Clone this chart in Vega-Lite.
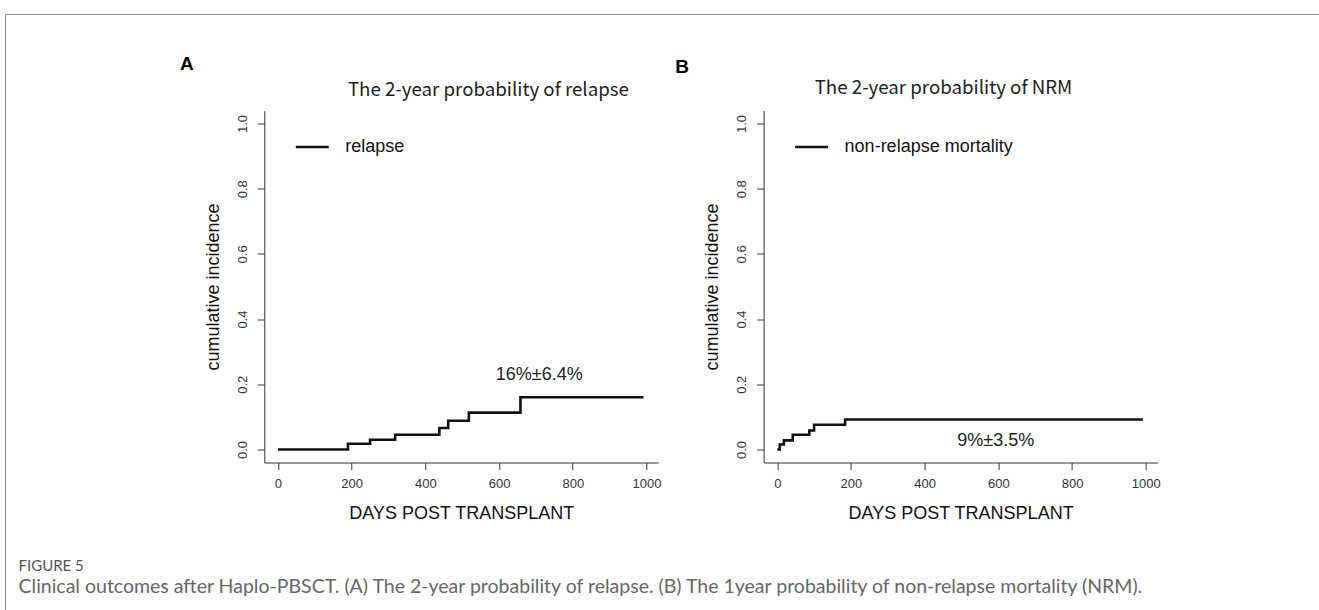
{
  "$schema": "https://vega.github.io/schema/vega-lite/v6.json",
  "padding": {"left": 4, "top": 13, "right": 0, "bottom": 0},
  "background": "white",
  "datasets": {
    "relapse": [
      {"day": 0, "ci": 0, "series": "relapse"},
      {"day": 190, "ci": 0.0175, "series": "relapse"},
      {"day": 250, "ci": 0.030, "series": "relapse"},
      {"day": 318, "ci": 0.045, "series": "relapse"},
      {"day": 438, "ci": 0.066, "series": "relapse"},
      {"day": 462, "ci": 0.088, "series": "relapse"},
      {"day": 518, "ci": 0.113, "series": "relapse"},
      {"day": 658, "ci": 0.160, "series": "relapse"},
      {"day": 992, "ci": 0.160, "series": "relapse"}
    ],
    "nrm": [
      {"day": 0, "ci": 0, "series": "non-relapse mortality"},
      {"day": 7, "ci": 0.015, "series": "non-relapse mortality"},
      {"day": 18, "ci": 0.028, "series": "non-relapse mortality"},
      {"day": 42, "ci": 0.045, "series": "non-relapse mortality"},
      {"day": 87, "ci": 0.058, "series": "non-relapse mortality"},
      {"day": 100, "ci": 0.076, "series": "non-relapse mortality"},
      {"day": 184, "ci": 0.092, "series": "non-relapse mortality"},
      {"day": 992, "ci": 0.092, "series": "non-relapse mortality"}
    ],
    "textA": [
      {"kind": "note", "label": "16%±6.4%", "day": 709, "ci": 0.23},
      {"kind": "head", "label": "The 2-year probability of relapse", "day": 571, "ci": 1.104},
      {"kind": "letter", "label": "A", "day": -247, "ci": 1.184}
    ],
    "textB": [
      {"kind": "note", "label": "9%±3.5%", "day": 593, "ci": 0.0245},
      {"kind": "head", "label": "The 2-year probability of NRM", "day": 451, "ci": 1.109},
      {"kind": "letter", "label": "B", "day": -258, "ci": 1.173}
    ]
  },
  "config": {
    "view": {"stroke": null},
    "font": "Liberation Sans",
    "axis": {
      "grid": false,
      "domainColor": "#333",
      "tickColor": "#333",
      "tickSize": 7,
      "labelFont": "Liberation Sans",
      "labelFontSize": 13,
      "labelColor": "#333",
      "labelFlush": false,
      "labelOverlap": false,
      "titleFont": "Liberation Sans",
      "titleFontSize": 18,
      "titleFontWeight": "normal",
      "titleColor": "#111"
    }
  },
  "hconcat": [
    {
      "width": 0.01,
      "height": 620,
      "data": {"values": []},
      "mark": "point",
      "view": {"stroke": "#8f8f8f", "strokeWidth": 1}
    },
    {
      "vconcat": [
        {
          "width": 1330,
          "height": 0.01,
          "data": {"values": []},
          "mark": "point",
          "view": {"stroke": "#8f8f8f", "strokeWidth": 1}
        },
        {
          "hconcat": [
            {
              "width": 152.2,
              "height": 352,
              "data": {"values": []},
              "mark": "point"
            },
            {
              "width": 394,
              "height": 352,
              "encoding": {
                "x": {
                  "field": "day", "type": "quantitative",
                  "scale": {"domain": [-37, 1032], "nice": false, "zero": false},
                  "axis": {"values": [0, 200, 400, 600, 800, 1000], "format": "d", "title": "DAYS POST TRANSPLANT", "labelPadding": 8, "titlePadding": 14}
                },
                "y": {
                  "field": "ci", "type": "quantitative",
                  "scale": {"domain": [-0.04, 1.04], "nice": false, "zero": false},
                  "axis": {"values": [0, 0.2, 0.4, 0.6, 0.8, 1.0], "format": ".1f", "labelAngle": 270, "labelAlign": "center", "labelBaseline": "bottom", "labelPadding": 8, "title": "cumulative incidence", "titlePadding": 14}
                }
              },
              "layer": [
                {
                  "data": {"name": "relapse"},
                  "mark": {"type": "line", "interpolate": "step-after", "strokeWidth": 2.6},
                  "encoding": {
                    "color": {
                      "field": "series", "type": "nominal",
                      "scale": {"range": ["#111111"]},
                      "legend": {"orient": "none", "legendX": 30, "legendY": 18.5, "title": null, "symbolType": "stroke", "symbolSize": 1089, "symbolStrokeWidth": 2.5, "labelFont": "Liberation Sans", "labelFontSize": 18, "labelColor": "#111", "labelOffset": 15, "labelLimit": 0, "padding": 0}
                    }
                  }
                },
                {
                  "data": {"name": "textA"},
                  "transform": [{"filter": "datum.kind === 'note'"}],
                  "mark": {"type": "text", "font": "Liberation Sans", "fontSize": 18, "color": "#222"},
                  "encoding": {"text": {"field": "label"}}
                },
                {
                  "data": {"name": "textA"},
                  "transform": [{"filter": "datum.kind === 'head'"}],
                  "mark": {"type": "text", "font": "Noto Sans CJK SC", "fontSize": 18.7, "color": "#222"},
                  "encoding": {"text": {"field": "label"}}
                },
                {
                  "data": {"name": "textA"},
                  "transform": [{"filter": "datum.kind === 'letter'"}],
                  "mark": {"type": "text", "font": "Liberation Sans", "fontSize": 19, "fontWeight": "bold", "color": "#000"},
                  "encoding": {"text": {"field": "label"}}
                }
              ]
            },
            {
              "width": 394,
              "height": 352,
              "encoding": {
                "x": {
                  "field": "day", "type": "quantitative",
                  "scale": {"domain": [-37, 1032], "nice": false, "zero": false},
                  "axis": {"values": [0, 200, 400, 600, 800, 1000], "format": "d", "title": "DAYS POST TRANSPLANT", "labelPadding": 8, "titlePadding": 14}
                },
                "y": {
                  "field": "ci", "type": "quantitative",
                  "scale": {"domain": [-0.04, 1.04], "nice": false, "zero": false},
                  "axis": {"values": [0, 0.2, 0.4, 0.6, 0.8, 1.0], "format": ".1f", "labelAngle": 270, "labelAlign": "center", "labelBaseline": "bottom", "labelPadding": 8, "title": "cumulative incidence", "titlePadding": 14}
                }
              },
              "layer": [
                {
                  "data": {"name": "nrm"},
                  "mark": {"type": "line", "interpolate": "step-after", "strokeWidth": 2.6},
                  "encoding": {
                    "color": {
                      "field": "series", "type": "nominal",
                      "scale": {"range": ["#111111"]},
                      "legend": {"orient": "none", "legendX": 30, "legendY": 18.5, "title": null, "symbolType": "stroke", "symbolSize": 1089, "symbolStrokeWidth": 2.5, "labelFont": "Liberation Sans", "labelFontSize": 18, "labelColor": "#111", "labelOffset": 15, "labelLimit": 0, "padding": 0}
                    }
                  }
                },
                {
                  "data": {"name": "textB"},
                  "transform": [{"filter": "datum.kind === 'note'"}],
                  "mark": {"type": "text", "font": "Liberation Sans", "fontSize": 18, "color": "#222"},
                  "encoding": {"text": {"field": "label"}}
                },
                {
                  "data": {"name": "textB"},
                  "transform": [{"filter": "datum.kind === 'head'"}],
                  "mark": {"type": "text", "font": "Noto Sans CJK SC", "fontSize": 18.7, "color": "#222"},
                  "encoding": {"text": {"field": "label"}}
                },
                {
                  "data": {"name": "textB"},
                  "transform": [{"filter": "datum.kind === 'letter'"}],
                  "mark": {"type": "text", "font": "Liberation Sans", "fontSize": 19, "fontWeight": "bold", "color": "#000"},
                  "encoding": {"text": {"field": "label"}}
                }
              ]
            }
          ],
          "spacing": 105.3,
          "bounds": "flush",
          "resolve": {"scale": {"color": "independent"}, "legend": {"color": "independent"}},
          "title": {
            "text": "FIGURE 5",
            "subtitle": "Clinical outcomes after Haplo-PBSCT. (A) The 2-year probability of relapse. (B) The 1year probability of non-relapse mortality (NRM).",
            "orient": "bottom",
            "anchor": "start",
            "frame": "group",
            "dx": 12.5,
            "offset": 36,
            "font": "Lato",
            "fontSize": 15,
            "fontWeight": "normal",
            "color": "#555",
            "subtitleFont": "Lato",
            "subtitleFontSize": 19.5,
            "subtitleColor": "#666",
            "subtitlePadding": 4
          }
        }
      ],
      "spacing": 95.5,
      "bounds": "flush",
      "resolve": {"scale": {"color": "independent"}, "legend": {"color": "independent"}}
    }
  ],
  "spacing": 0,
  "bounds": "flush",
  "resolve": {"scale": {"color": "independent"}, "legend": {"color": "independent"}}
}
